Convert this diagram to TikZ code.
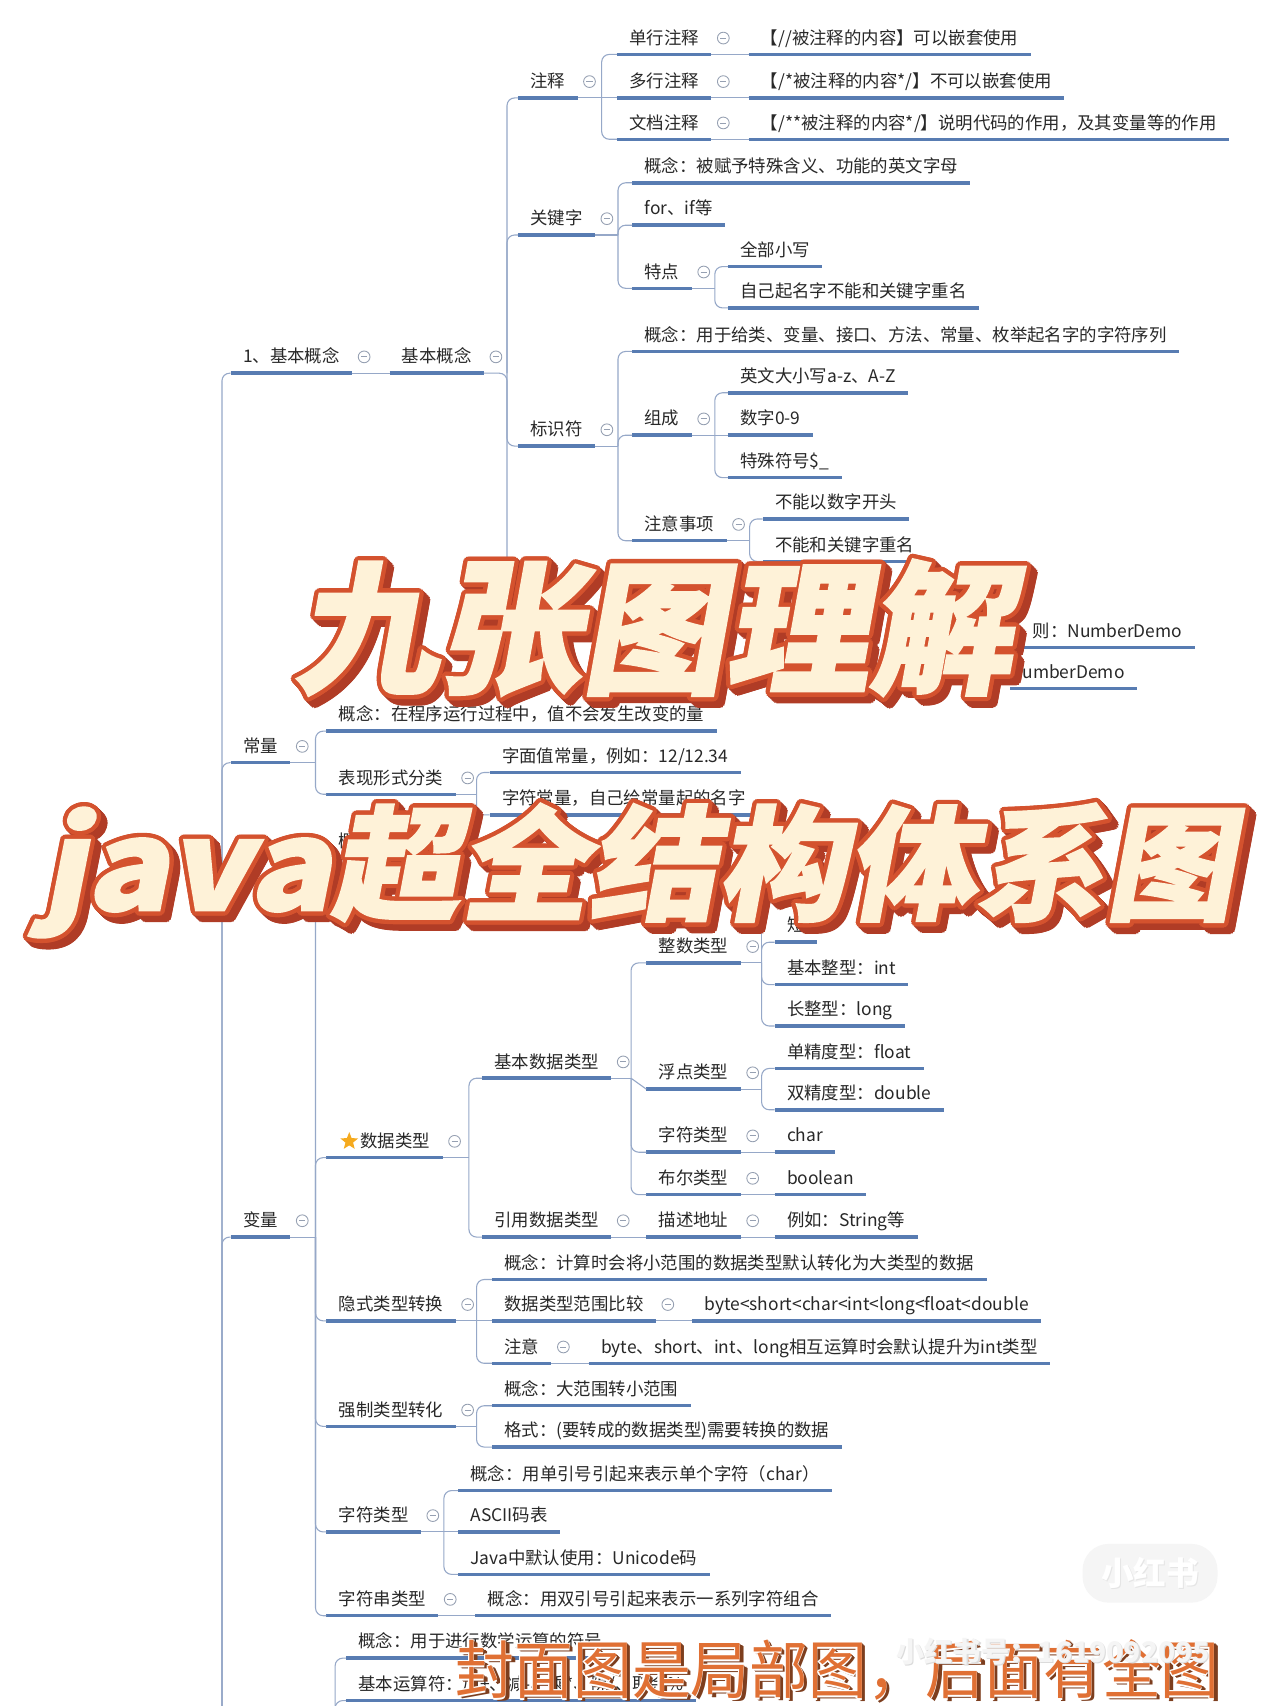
\documentclass[tikz,border=0pt]{standalone}
\usepackage{fontspec}
\usepackage{graphicx}
\usetikzlibrary{calc,shapes.geometric}
\newfontfamily\cjk{Noto Sans CJK SC}
\newfontfamily\ttlfont[FakeSlant=0.18,BoldFeatures={FakeSlant=0.18,FakeBold=1.5}]{Noto Sans CJK SC}
\definecolor{ulinec}{RGB}{88,124,178}
\definecolor{connc}{RGB}{150,168,200}
\definecolor{txtc}{RGB}{40,40,40}
\definecolor{minc}{RGB}{150,160,178}
\definecolor{tshadow}{RGB}{176,60,38}
\definecolor{toutline}{RGB}{212,82,46}
\definecolor{tfill}{RGB}{254,242,216}
\definecolor{orangeT}{RGB}{224,112,52}
\definecolor{orangeS}{RGB}{125,62,30}
\definecolor{starc}{RGB}{245,170,30}
\newcommand\mytitleb{\scalebox{1.1}[1]{java}\scalebox{1.04}[1]{超全结构体系图}}
\begin{document}
\begin{tikzpicture}[x=0.5pt,y=-0.5pt,
  topic/.style={anchor=south west, font=\cjk\fontsize{8pt}{9pt}\selectfont, text=txtc,
    inner xsep=5.5pt, inner ysep=2.5pt, text height=6.5pt, text depth=2pt,
    append after command={(\tikzlastnode.south west) edge[ulinestyle] (\tikzlastnode.south east)}},
  ulinestyle/.style={draw=ulinec, line width=1.6pt},
  conn/.style={draw=connc, line width=0.5pt, rounded corners=3.5pt},
  minus/.style={circle, draw=minc, line width=0.4pt, minimum size=5.4pt, inner sep=0pt, fill=white,
    path picture={\draw[minc,line width=0.4pt] ([xshift=1.3pt]path picture bounding box.west) -- ([xshift=-1.3pt]path picture bounding box.east);}},
  ttla/.style={font=\ttlfont\bfseries\fontsize{66pt}{70pt}\selectfont, inner sep=0pt},
  ttlb/.style={font=\ttlfont\bfseries\fontsize{57pt}{60pt}\selectfont, inner sep=0pt},
  bott/.style={font=\cjk\fontsize{27pt}{30pt}\selectfont, inner sep=0pt},
]
\fill[white] (0,0) rectangle (1176,1568);
\useasboundingbox (0,0) rectangle (1176,1568);

% ---------- nodes ----------
\node[topic] (n1) at (212,343) {1、基本概念};
\node[topic] (jb) at (358,343) {基本概念};
\node[topic] (zs) at (476,90) {注释};
\node[topic] (dh) at (567,50) {单行注释};
\node[topic] (duo) at (567,90) {多行注释};
\node[topic] (wd) at (567,128) {文档注释};
\node[topic] (dhc) at (688,50) {【//被注释的内容】可以嵌套使用};
\node[topic] (duoc) at (688,90) {【/*被注释的内容*/】不可以嵌套使用};
\node[topic] (wdc) at (688,128) {【/**被注释的内容*/】说明代码的作用，及其变量等的作用};
\node[topic] (gjz) at (476,216) {关键字};
\node[topic] (gjz1) at (581,168) {概念：被赋予特殊含义、功能的英文字母};
\node[topic] (gjz2) at (581,207) {for、if等};
\node[topic] (td) at (581,265) {特点};
\node[topic] (td1) at (669,245) {全部小写};
\node[topic] (td2) at (669,283) {自己起名字不能和关键字重名};
\node[topic] (bsf) at (476,410) {标识符};
\node[topic] (bs1) at (581,323) {概念：用于给类、变量、接口、方法、常量、枚举起名字的字符序列};
\node[topic] (zc) at (581,400) {组成};
\node[topic] (zc1) at (669,361) {英文大小写a-z、A-Z};
\node[topic] (zc2) at (669,400) {数字0-9};
\node[topic] (zc3) at (669,439) {特殊符号\$\_};
\node[topic] (zy) at (581,497) {注意事项};
\node[topic] (zy1) at (701,477) {不能以数字开头};
\node[topic] (zy2) at (701,516) {不能和关键字重名};
\node[topic, anchor=south east] (nd1) at (1098,595) {则：NumberDemo};
\node[topic, anchor=south east] (nd2) at (1045,633) {umberDemo};

\node[topic] (cl) at (212,701) {常量};
\node[topic] (cl1) at (300,672) {概念：在程序运行过程中，值不会发生改变的量};
\node[topic] (bx) at (300,730) {表现形式分类};
\node[topic] (bx1) at (450,710) {字面值常量，例如：12/12.34};
\node[topic] (bx2) at (450,749) {字符常量，自己给常量起的名字};

\node[topic] (bl) at (212,1137) {变量};
\node[topic] (gai) at (300,788) {概\hspace{50pt}};
\node[topic] (sj) at (300,1064) {\hspace{10pt}数据类型};
\node[topic] (jbsj) at (443,991) {基本数据类型};
\node[topic] (zsl) at (594,885) {整数类型};
\node[topic] (dz) at (712,866) {短\hspace{50pt}};
\node[topic] (jbzx) at (712,905) {基本整型：int};
\node[topic] (czx) at (712,943) {长整型：long};
\node[topic] (fd) at (594,1001) {浮点类型};
\node[topic] (fd1) at (712,982) {单精度型：float};
\node[topic] (fd2) at (712,1020) {双精度型：double};
\node[topic] (zf) at (594,1059) {字符类型};
\node[topic] (zf1) at (712,1059) {char};
\node[topic] (be) at (594,1098) {布尔类型};
\node[topic] (be1) at (712,1098) {boolean};
\node[topic] (yy) at (443,1137) {引用数据类型};
\node[topic] (ms) at (594,1137) {描述地址};
\node[topic] (ms1) at (712,1137) {例如：String等};
\node[topic] (ys) at (300,1214) {隐式类型转换};
\node[topic] (ys1) at (452,1176) {概念：计算时会将小范围的数据类型默认转化为大类型的数据};
\node[topic] (ys2) at (452,1214) {数据类型范围比较};
\node[topic] (ys2a) at (636,1214) {byte<short<char<int<long<float<double};
\node[topic] (ys3) at (452,1253) {注意};
\node[topic] (ys3a) at (541,1253) {byte、short、int、long相互运算时会默认提升为int类型};
\node[topic] (qz) at (300,1311) {强制类型转化};
\node[topic] (qz1) at (452,1292) {概念：大范围转小范围};
\node[topic] (qz2) at (452,1330) {格式：(要转成的数据类型)需要转换的数据};
\node[topic] (zfl) at (300,1408) {字符类型};
\node[topic] (zfl1) at (421,1370) {概念：用单引号引起来表示单个字符（char）};
\node[topic] (zfl2) at (421,1408) {ASCII码表};
\node[topic] (zfl3) at (421,1447) {Java中默认使用：Unicode码};
\node[topic] (zfc) at (300,1485) {字符串类型};
\node[topic] (zfc1) at (437,1485) {概念：用双引号引起来表示一系列字符组合};
\node[topic] (ysf1) at (318,1524) {概念：用于进行数学运算的符号};
\node[topic] (ysf2) at (318,1563) {基本运算符：加+、减-、乘*、除/、取余\%};

% star
\node[star, star points=5, star point ratio=2.3, fill=starc, inner sep=0pt, minimum size=8.5pt] (starn) at (321,1049) {};

% ---------- trunk coordinates ----------
\coordinate (rT) at (204,1600);
\coordinate (jbT) at (466,343);
\coordinate (jbEnd) at (466,590);
\coordinate (zsT) at (553,90);
\coordinate (gjzT) at (568,216);
\coordinate (tdT) at (657,265);
\coordinate (bsfT) at (568,410);
\coordinate (zcT) at (657,400);
\coordinate (zyT) at (689,497);
\coordinate (clT) at (290,701);
\coordinate (bxT) at (438,730);
\coordinate (blT) at (290,1137);
\coordinate (sjT) at (431,1064);
\coordinate (jbsjT) at (580,991);
\coordinate (zslT) at (700,885);
\coordinate (zslTop) at (700,830);
\coordinate (fdT) at (700,1001);
\coordinate (ysT) at (438,1214);
\coordinate (qzT) at (438,1311);
\coordinate (zflT) at (408,1408);
\coordinate (bT) at (308,1600);

% ---------- connectors ----------
\foreach \c in {n1,cl,bl} \draw[conn] (rT) |- (\c.south west);
\draw[conn] (n1.south east) -- (jb.south west);
\draw[conn] (jb.south east) -- (jbT) -- (jbEnd);
\foreach \c in {zs,gjz,bsf} \draw[conn] (jbT) |- (\c.south west);
\draw[conn] (zs.south east) -- (zsT);
\foreach \c in {dh,wd} \draw[conn] (zsT) |- (\c.south west);
\draw[conn] (zsT) -- (duo.south west);
\draw[conn] (dh.south east) -- (dhc.south west);
\draw[conn] (duo.south east) -- (duoc.south west);
\draw[conn] (wd.south east) -- (wdc.south west);
\draw[conn] (gjz.south east) -- (gjzT);
\foreach \c in {gjz1,gjz2,td} \draw[conn] (gjzT) |- (\c.south west);
\draw[conn] (td.south east) -- (tdT);
\foreach \c in {td1,td2} \draw[conn] (tdT) |- (\c.south west);
\draw[conn] (bsf.south east) -- (bsfT);
\foreach \c in {bs1,zc,zy} \draw[conn] (bsfT) |- (\c.south west);
\draw[conn] (zc.south east) -- (zcT);
\foreach \c in {zc1,zc3} \draw[conn] (zcT) |- (\c.south west);
\draw[conn] (zcT) -- (zc2.south west);
\draw[conn] (zy.south east) -- (zyT);
\foreach \c in {zy1,zy2} \draw[conn] (zyT) |- (\c.south west);

\draw[conn] (cl.south east) -- (clT);
\foreach \c in {cl1,bx} \draw[conn] (clT) |- (\c.south west);
\draw[conn] (bx.south east) -- (bxT);
\foreach \c in {bx1,bx2} \draw[conn] (bxT) |- (\c.south west);

\draw[conn] (bl.south east) -- (blT);
\foreach \c in {gai,sj,ys,qz,zfl,zfc} \draw[conn] (blT) |- (\c.south west);
\draw[conn] (sj.south east) -- (sjT);
\foreach \c in {jbsj,yy} \draw[conn] (sjT) |- (\c.south west);
\draw[conn] (jbsj.south east) -- (jbsjT);
\foreach \c in {zsl,zf,be} \draw[conn] (jbsjT) |- (\c.south west);
\draw[conn] (jbsjT) -- (fd.south west);
\draw[conn] (zsl.south east) -- (zslT);
\draw[conn] (zslT) -- (zslTop);
\foreach \c in {dz,jbzx,czx} \draw[conn] (zslT) |- (\c.south west);
\draw[conn] (fd.south east) -- (fdT);
\foreach \c in {fd1,fd2} \draw[conn] (fdT) |- (\c.south west);
\draw[conn] (zf.south east) -- (zf1.south west);
\draw[conn] (be.south east) -- (be1.south west);
\draw[conn] (yy.south east) -- (ms.south west);
\draw[conn] (ms.south east) -- (ms1.south west);
\draw[conn] (ys.south east) -- (ysT);
\foreach \c in {ys1,ys3} \draw[conn] (ysT) |- (\c.south west);
\draw[conn] (ysT) -- (ys2.south west);
\draw[conn] (ys2.south east) -- (ys2a.south west);
\draw[conn] (ys3.south east) -- (ys3a.south west);
\draw[conn] (qz.south east) -- (qzT);
\foreach \c in {qz1,qz2} \draw[conn] (qzT) |- (\c.south west);
\draw[conn] (zfl.south east) -- (zflT);
\foreach \c in {zfl1,zfl3} \draw[conn] (zflT) |- (\c.south west);
\draw[conn] (zflT) -- (zfl2.south west);
\draw[conn] (zfc.south east) -- (zfc1.south west);
\foreach \c in {ysf1,ysf2} \draw[conn] (bT) |- (\c.south west);

% ---------- collapse markers ----------
\foreach \n in {n1,jb,zs,dh,duo,wd,gjz,td,bsf,zc,zy,cl,bx,bl,sj,jbsj,zsl,fd,zf,be,yy,ms,ys,ys2,ys3,qz,zfl,zfc}
  \node[minus] at ([xshift=5.5pt,yshift=7.5pt]\n.south east) {};

% ---------- title overlay ----------
\coordinate (T1) at (600,577);
\coordinate (T2) at (586,800);
\foreach \k in {1,...,6}{\foreach \a in {0,30,...,330}{
  \node[ttla,text=tshadow] at ($(T1)+(\k,\k)+(\a:4)$) {九张图理解};
  \node[ttlb,text=tshadow] at ($(T2)+(\k,\k)+(\a:4)$) {\mytitleb};
}}
\foreach \a in {0,22.5,...,337.5}{
  \node[ttla,text=toutline] at ($(T1)+(\a:4)$) {九张图理解};
  \node[ttlb,text=toutline] at ($(T2)+(\a:4)$) {\mytitleb};
}
\node[ttla,text=tfill] (title1) at (T1) {九张图理解};
\node[ttlb,text=tfill] (title2) at (T2) {\mytitleb};

% ---------- bottom caption ----------
\coordinate (B1) at (770,1535);
\foreach \k in {1,2,3}{\node[bott,text=orangeS] at ($(B1)+(\k,\k)$) {\scalebox{1}[1.08]{封面图是局部图，后面有全图}};}
\foreach \a in {90,135,180,225,270}{\node[bott,text=white] at ($(B1)+(\a:1.5)$) {\scalebox{1}[1.08]{封面图是局部图，后面有全图}};}
\node[bott,text=orangeT] (caption) at (B1) {\scalebox{1}[1.08]{封面图是局部图，后面有全图}};

% ---------- watermark ----------
\node[fill=black!4, rounded corners=12pt, minimum width=62pt, minimum height=27pt, inner sep=0pt] (wm) at (1057,1446) {};
\node[font=\cjk\bfseries\fontsize{15pt}{15pt}\selectfont, text=black!10] at ($(wm)+(1,1)$) {小红书};
\node[font=\cjk\bfseries\fontsize{15pt}{15pt}\selectfont, text=white] (wmt) at (wm) {小红书};
\node[font=\cjk\bfseries\fontsize{13pt}{13pt}\selectfont, text=black!14] at (969,1519) {小红书号：1619092095};
\node[font=\cjk\bfseries\fontsize{13pt}{13pt}\selectfont, text=white!96!black] (wmn) at (968,1518) {小红书号：1619092095};
\end{tikzpicture}
\end{document}
